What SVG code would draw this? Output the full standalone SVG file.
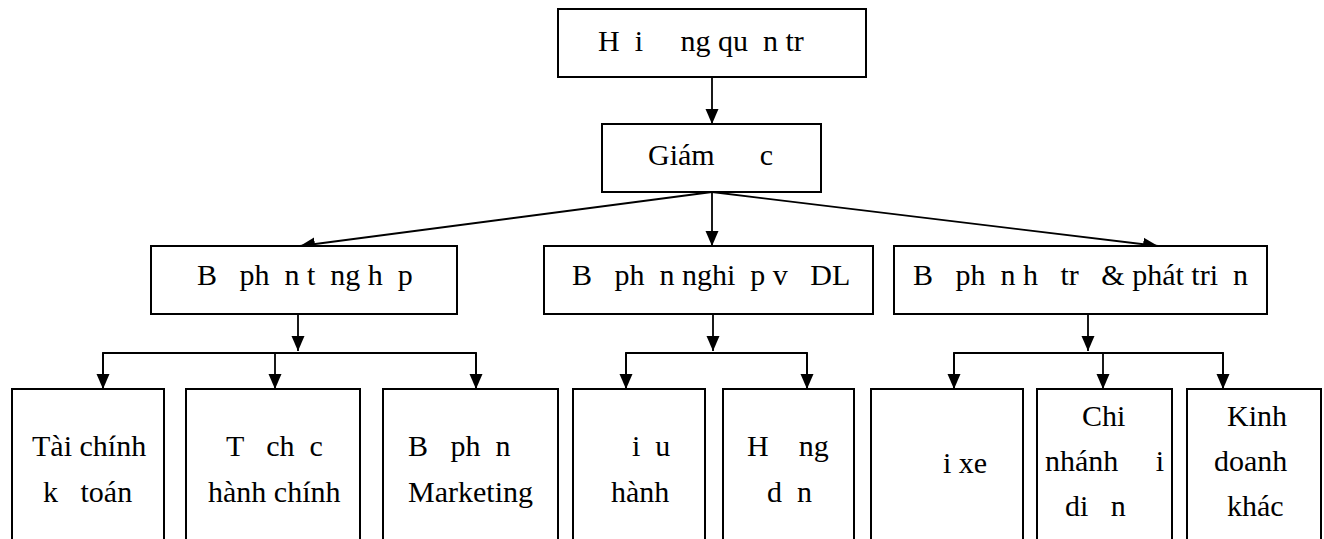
<svg xmlns="http://www.w3.org/2000/svg" width="1324" height="539" viewBox="0 0 1324 539">
<defs>
<marker id="ah" markerUnits="userSpaceOnUse" markerWidth="16" markerHeight="16" viewBox="0 0 16 16" refX="15" refY="8" orient="auto">
<path d="M0,1.5 L15,8 L0,14.5 Z" fill="#000"/>
</marker>
</defs>
<style>
.box{fill:#fff;stroke:#000;stroke-width:2}
.t{font-family:"Liberation Serif","Times New Roman",serif;font-size:30px;fill:#000;white-space:pre}
.c{fill:none;stroke:#000;stroke-width:1.8}
.a{marker-end:url(#ah)}
</style>
<rect width="1324" height="539" fill="#fff"/>
<g id="connectors">
<line class="c a" x1="712" y1="77" x2="712" y2="124"/>
<line class="c a" x1="712" y1="192" x2="300" y2="246"/>
<line class="c a" x1="712" y1="192" x2="712" y2="246"/>
<line class="c a" x1="712" y1="192" x2="1158" y2="246"/>
<line class="c a" x1="298" y1="314" x2="298" y2="351"/>
<line class="c a" x1="713" y1="314" x2="713" y2="351"/>
<line class="c a" x1="1088" y1="314" x2="1088" y2="351"/>
<polyline class="c" points="103,389 103,353 476,353 476,389"/>
<line class="c a" x1="103" y1="353" x2="103" y2="389"/>
<line class="c a" x1="275" y1="353" x2="275" y2="389"/>
<line class="c a" x1="476" y1="353" x2="476" y2="389"/>
<polyline class="c" points="626,389 626,353 807,353 807,389"/>
<line class="c a" x1="626" y1="353" x2="626" y2="389"/>
<line class="c a" x1="807" y1="353" x2="807" y2="389"/>
<polyline class="c" points="954,389 954,353 1223,353 1223,389"/>
<line class="c a" x1="954" y1="353" x2="954" y2="389"/>
<line class="c a" x1="1103" y1="353" x2="1103" y2="389"/>
<line class="c a" x1="1223" y1="353" x2="1223" y2="389"/>
</g>
<g id="hdqt"><rect class="box" x="558" y="9" width="308" height="68"/><text class="t" x="598" y="51" xml:space="preserve">H  i     ng qu  n tr  </text></g>
<g id="giamdoc"><rect class="box" x="602" y="124" width="219" height="68"/><text class="t" x="648" y="165" xml:space="preserve">Giám      c</text></g>
<g id="bp-tonghop"><rect class="box" x="151" y="246" width="306" height="68"/><text class="t" x="197" y="285" xml:space="preserve">B   ph  n t  ng h  p</text></g>
<g id="bp-nghiepvu"><rect class="box" x="544" y="246" width="329" height="68"/><text class="t" x="572" y="285" xml:space="preserve">B   ph  n nghi  p v   DL</text></g>
<g id="bp-hotro"><rect class="box" x="894" y="246" width="373" height="68"/><text class="t" x="913" y="285" xml:space="preserve">B   ph  n h   tr   &amp; phát tri  n</text></g>
<g id="taichinh"><rect class="box" x="12" y="389" width="152" height="170"/><text class="t" x="32" y="456" xml:space="preserve">Tài chính</text><text class="t" x="43" y="502" xml:space="preserve">k   toán</text></g>
<g id="tochuc"><rect class="box" x="186" y="389" width="174" height="170"/><text class="t" x="226" y="456" xml:space="preserve">T   ch  c</text><text class="t" x="208" y="502" xml:space="preserve">hành chính</text></g>
<g id="marketing"><rect class="box" x="383" y="389" width="175" height="170"/><text class="t" x="408" y="456" xml:space="preserve">B   ph  n</text><text class="t" x="408" y="502" xml:space="preserve">Marketing</text></g>
<g id="dieuhanh"><rect class="box" x="573" y="389" width="132" height="170"/><text class="t" x="617" y="456" xml:space="preserve">  i  u</text><text class="t" x="611" y="502" xml:space="preserve">hành</text></g>
<g id="huongdan"><rect class="box" x="723" y="389" width="131" height="170"/><text class="t" x="747" y="456" xml:space="preserve">H    ng</text><text class="t" x="767" y="502" xml:space="preserve">d  n</text></g>
<g id="doixe"><rect class="box" x="871" y="389" width="152" height="170"/><text class="t" x="913" y="473" xml:space="preserve">    i xe</text></g>
<g id="chinhanh"><rect class="box" x="1037" y="389" width="135" height="170"/><text class="t" x="1082" y="426" xml:space="preserve">Chi</text><text class="t" x="1045" y="471" xml:space="preserve">nhánh     i</text><text class="t" x="1065" y="516" xml:space="preserve">di   n</text></g>
<g id="kinhdoanh"><rect class="box" x="1187" y="389" width="134" height="170"/><text class="t" x="1227" y="426" xml:space="preserve">Kinh</text><text class="t" x="1214" y="471" xml:space="preserve">doanh</text><text class="t" x="1227" y="516" xml:space="preserve">khác</text></g>
</svg>
